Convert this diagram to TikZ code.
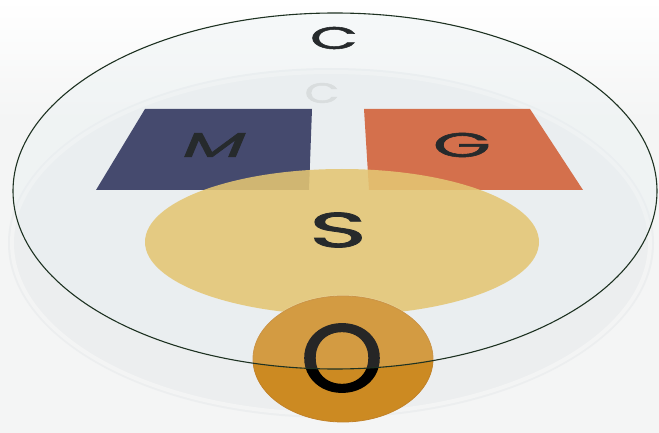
\documentclass[tikz,border=0pt]{standalone}
\usepackage{fontspec}
\setmainfont{Poppins}
\newfontfamily\heavy[FakeBold=1.6]{Poppins}
\definecolor{bgc}{HTML}{F4F5F5}
\definecolor{discc}{HTML}{ECEEEF}
\definecolor{rimc}{HTML}{F3F4F4}
\definecolor{mcol}{HTML}{454A6E}
\definecolor{gcol}{HTML}{D4704C}
\definecolor{scol}{HTML}{E4C673}
\definecolor{ocol}{HTML}{CC8A22}
\definecolor{oedge}{HTML}{C28228}
\definecolor{glassline}{HTML}{1E3222}
\definecolor{glassfill}{HTML}{E8F0F2}
\definecolor{txt}{HTML}{262A2C}
\definecolor{ghost}{HTML}{D9DDDE}
\tikzset{
  lbl/.style={inner sep=0pt, text=txt},
}
\begin{document}
\begin{tikzpicture}[x=1pt,y=-1pt]
\useasboundingbox (0,0) rectangle (659,433);
\shade[top color=white, bottom color=bgc] (0,0) rectangle (659,120);
\fill[bgc] (0,119.5) rectangle (659,433);
% back disc
\fill[discc] (331,243) ellipse [x radius=323, y radius=175];
\draw[rimc, line width=4] (331,243) ellipse [x radius=319, y radius=171];
% glass fill
\fill[glassfill, opacity=0.35] (335,191) ellipse [x radius=322, y radius=178];
% ghost C
\node[inner sep=0pt, text=ghost, font=\heavy\fontsize{28}{30}\selectfont, xscale=1.6] (ghostc) at (322,93) {C};
% M and G plates
\fill[mcol] (145,109) -- (312,109) -- (309,190) -- (96,190) -- cycle;
\fill[gcol] (364,109) -- (530,109) -- (583,190) -- (369,190) -- cycle;
% S
\fill[scol, opacity=0.88] (342,242) ellipse [x radius=197, y radius=73];
% O
\fill[ocol] (343,359) ellipse [x radius=90, y radius=63];
\draw[oedge, line width=0.8] (343,359) ellipse [x radius=90, y radius=63];
% labels
\node[lbl, font=\heavy\fontsize{31}{33}\selectfont, xscale=2.0] (c) at (334,38) {C};
\node[lbl, font=\heavy\fontsize{34}{36}\selectfont, xscale=2.1, xslant=0.2] (m) at (215,145) {M};
\node[lbl, font=\heavy\fontsize{34}{36}\selectfont, xscale=2.2] (g) at (462,145) {G};
\node[lbl, font=\heavy\fontsize{49}{51}\selectfont, xscale=2.0] (s) at (338,230) {S};
\node[lbl, text=black, font=\heavy\fontsize{96}{98}\selectfont, xscale=1.1] (o) at (342,358) {O};
% glass tint over upper O
\begin{scope}
\clip (335,191) ellipse [x radius=322, y radius=178];
\fill[white, opacity=0.15] (343,359) ellipse [x radius=91, y radius=64];
\end{scope}
% glass rim
\draw[glassline, line width=1.1] (335,191) ellipse [x radius=322, y radius=178];
\end{tikzpicture}
\end{document}
